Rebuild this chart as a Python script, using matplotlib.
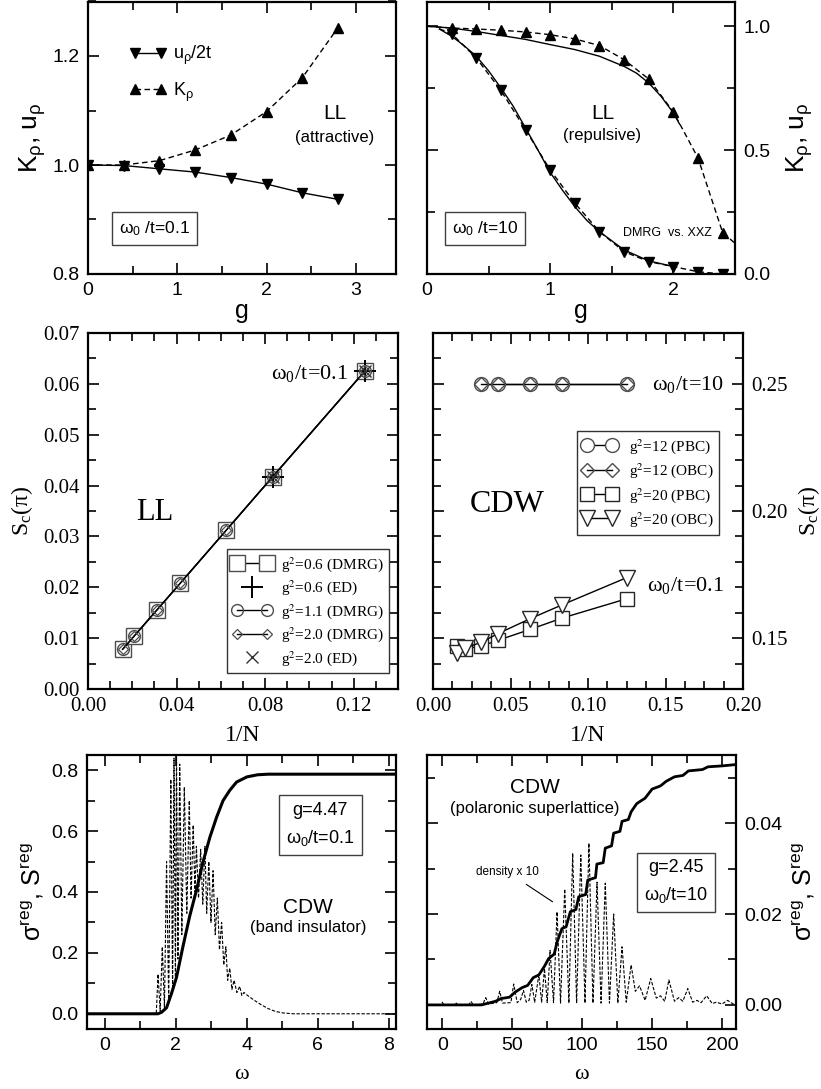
import matplotlib
matplotlib.use('Agg')
import matplotlib.pyplot as plt
from matplotlib.ticker import MultipleLocator, FormatStrFormatter
from matplotlib.legend_handler import HandlerLine2D
from matplotlib.font_manager import FontProperties

plt.rcParams['font.family'] = ['Liberation Sans', 'DejaVu Sans']
plt.rcParams['mathtext.fontset'] = 'custom'
plt.rcParams['mathtext.rm'] = 'Liberation Sans'
plt.rcParams['mathtext.it'] = 'Liberation Sans:italic'
plt.rcParams['mathtext.bf'] = 'Liberation Sans:bold'

SERIF = 'Liberation Serif'

# ---- top left: omega0/t = 0.1, attractive LL
g_att = [0.0, 0.4, 0.8, 1.2, 1.6, 2.0, 2.4, 2.8]
u_att = [1.0, 0.999, 0.993, 0.987, 0.977, 0.965, 0.949, 0.937]
K_att = [1.0, 1.0, 1.008, 1.0275, 1.055, 1.098, 1.160, 1.252]

# ---- top right: omega0/t = 10, repulsive LL (DMRG vs XXZ)
g_rep = [0.2, 0.4, 0.6, 0.8, 1.0, 1.2, 1.4, 1.6, 1.8, 2.0, 2.2, 2.4]
K_rep = [0.993, 0.989, 0.984, 0.977, 0.966, 0.949, 0.922, 0.865, 0.787, 0.654, 0.468, 0.167]
u_rep = [0.970, 0.872, 0.741, 0.582, 0.420, 0.286, 0.171, 0.090, 0.050, 0.030, 0.009, 0.0]
g_Kdash = [0.0] + g_rep + [2.5]
K_dash = [1.0] + K_rep + [0.124]
g_udash = [0.1] + g_rep
u_dash = [0.99] + u_rep
g_xxzK = [0.0, 0.2, 0.4, 0.6, 0.8, 1.0, 1.2, 1.4, 1.6, 1.7, 1.8, 1.9, 2.0, 2.05]
K_xxz = [1.0, 0.993, 0.979, 0.963, 0.947, 0.926, 0.906, 0.879, 0.838, 0.811, 0.771, 0.717, 0.650, 0.605]
g_xxzu = [0.1, 0.2, 0.3, 0.4, 0.5, 0.6, 0.7, 0.8, 0.9, 1.0, 1.1, 1.2, 1.3, 1.4, 1.6, 1.8, 2.0]
u_xxz = [0.989, 0.960, 0.922, 0.879, 0.820, 0.751, 0.677, 0.589, 0.501, 0.410, 0.338, 0.272, 0.215, 0.171, 0.097, 0.053, 0.030]

# ---- middle left: S_c(pi) vs 1/N, omega0/t = 0.1
invN_ll = [0.015625, 0.020833, 0.03125, 0.041667, 0.0625, 0.083333, 0.125]
S_ll = [0.0078, 0.0104, 0.0156, 0.0208, 0.03125, 0.0417, 0.0625]
invN_ed = [0.083333, 0.125]
S_ed = [0.0417, 0.0625]

# ---- middle right: CDW
invN_w10 = [0.03125, 0.041667, 0.0625, 0.083333, 0.125]
S_w10 = [0.25, 0.25, 0.25, 0.25, 0.25]
invN_w01 = [0.015625, 0.020833, 0.03125, 0.041667, 0.0625, 0.083333, 0.125]
S_pbc20 = [0.1471, 0.1458, 0.1469, 0.1491, 0.1534, 0.1579, 0.1655]
S_obc20 = [0.1442, 0.1461, 0.1484, 0.1517, 0.1576, 0.1631, 0.1738]

# ---- bottom left: band insulator spectra
w_bi = [-0.5, 1.45, 1.50, 1.56, 1.62, 1.68, 1.74, 1.80, 1.86, 1.91, 1.95, 1.99, 2.02, 2.06,
        2.11, 2.17, 2.24, 2.31, 2.38, 2.43, 2.49, 2.54, 2.58, 2.64, 2.70, 2.76, 2.82, 2.87,
        2.93, 2.99, 3.05, 3.11, 3.17, 3.23, 3.29, 3.35, 3.41, 3.46, 3.52, 3.58, 3.64, 3.72,
        3.80, 3.86, 3.92, 4.0, 4.2, 4.4, 4.6, 4.8, 5.0, 5.3, 8.2]
s_bi = [0.0, 0.0, 0.13, 0.01, 0.22, 0.02, 0.50, 0.04, 0.77, 0.08, 0.84, 0.12, 0.86, 0.18,
        0.82, 0.26, 0.745, 0.33, 0.70, 0.38, 0.62, 0.40, 0.55, 0.38, 0.54, 0.36, 0.55, 0.33,
        0.50, 0.30, 0.47, 0.26, 0.38, 0.21, 0.30, 0.16, 0.22, 0.11, 0.15, 0.08, 0.11, 0.07,
        0.09, 0.06, 0.07, 0.062, 0.045, 0.03, 0.017, 0.008, 0.003, 0.0, 0.0]
w_bi_int = [-0.5, 1.5, 1.6, 1.74, 1.88, 2.02, 2.2, 2.39, 2.58, 2.77, 2.96, 3.15, 3.33, 3.52,
            3.71, 4.0, 4.3, 4.6, 5.0, 8.2]
S_bi_int = [0.0, 0.0, 0.005, 0.02, 0.067, 0.12, 0.22, 0.32, 0.405, 0.50, 0.58, 0.646, 0.70,
            0.734, 0.761, 0.778, 0.785, 0.787, 0.787, 0.787]

# ---- bottom right: polaronic superlattice spectra
w_ps = [-10, -1, 0, 1, 9, 10, 11, 19, 20.5, 22, 29, 31, 33, 39, 41, 43, 49, 51, 53.5,
        56, 58, 60, 62, 64, 66, 69, 71, 73, 75, 77, 79.5, 82, 84.5, 87.5, 90.5, 93.2, 96,
        99, 102, 104.8, 107.7, 110.6, 113.5, 116.5, 119.5, 122.5, 125.5, 128.5, 131.5, 135,
        138, 141, 145, 149, 153, 156, 159, 162, 166, 169, 172, 175.5, 179, 182, 185, 189,
        193, 196, 200, 204, 208, 210]
s_ps = [0, 0, 0.0006, 0, 0, 0.0004, 0, 0, 0.0008, 0, 0.0002, 0.0016, 0.0002, 0.0005, 0.003,
        0.0004, 0.0005, 0.0046, 0.0005, 0.0012, 0.0032, 0.0006, 0.0010, 0.0045, 0.0006,
        0.0066, 0.0006, 0.0080, 0.0005, 0.0120, 0.0005, 0.0205, 0.0004, 0.0255, 0.0004,
        0.0334, 0.0004, 0.0330, 0.0004, 0.0356, 0.0004, 0.0270, 0.0004, 0.0268, 0.0004,
        0.0200, 0.0004, 0.0128, 0.0006, 0.0088, 0.0030, 0.0042, 0.0010, 0.0058, 0.0015,
        0.0020, 0.0008, 0.0055, 0.0008, 0.0016, 0.0008, 0.0036, 0.0006, 0.0010, 0.0005,
        0.0020, 0.0003, 0.0006, 0.0002, 0.0010, 0.0002, 0.0003]
w_ps_int = [-10, 28, 33, 38, 42, 48, 52, 57, 61, 65, 69, 73, 76, 80, 82, 85.5, 88.5, 91.5,
            95.5, 97.5, 102.5, 104, 109.5, 110.5, 115, 116.5, 121, 122.5, 127, 128.5, 133,
            135, 139, 145, 150, 156, 160, 166, 172, 176, 186, 190, 200, 210]
S_ps_int = [0.0, 0.0, 0.0004, 0.0008, 0.0014, 0.0017, 0.0028, 0.0038, 0.0043, 0.0060, 0.0066,
            0.0085, 0.0102, 0.0112, 0.0138, 0.0168, 0.0172, 0.0205, 0.0210, 0.0238, 0.0243,
            0.0275, 0.0280, 0.0310, 0.0313, 0.0345, 0.0350, 0.0378, 0.0382, 0.0404, 0.0408,
            0.0425, 0.0443, 0.0455, 0.0475, 0.0482, 0.0492, 0.0502, 0.0505, 0.0515, 0.0518,
            0.0524, 0.0526, 0.0529]

W, H = 821, 1089
fig = plt.figure(figsize=(W / 100, H / 100), dpi=100)


def add_ax(l, t, r, b):
    return fig.add_axes([l / W, 1 - b / H, (r - l) / W, (b - t) / H])


def style(ax, serif=False, right=False, size=14):
    ax.tick_params(which='both', direction='in', top=True, right=True, left=True,
                   bottom=True, width=1.2, labelsize=size, pad=6)
    ax.tick_params(which='major', length=8)
    ax.tick_params(which='minor', length=6)
    if serif:
        ax.tick_params(labelfontfamily=SERIF)
    if right:
        ax.tick_params(labelleft=False, labelright=True)
        ax.yaxis.set_label_position('right')
    for s in ax.spines.values():
        s.set_linewidth(1.6)


boxkw = dict(boxstyle='square,pad=0.4', fc='white', ec='0.25', lw=1.0)

# ===== panel 1
ax1 = add_ax(88, 1.5, 396, 274)
ax1.plot(g_att, u_att, '-', color='k', lw=1.0, marker='v', ms=7, label=r'u$_\mathregular{ρ}$/2t')
ax1.plot(g_att, K_att, '--', color='k', lw=1.0, marker='^', ms=7, dashes=(4, 2.5), label=r'K$_\mathregular{ρ}$')
ax1.set_xlim(0, 3.45)
ax1.set_ylim(0.8, 1.3)
ax1.xaxis.set_major_locator(MultipleLocator(1))
ax1.xaxis.set_minor_locator(MultipleLocator(0.5))
ax1.yaxis.set_major_locator(MultipleLocator(0.2))
ax1.yaxis.set_minor_locator(MultipleLocator(0.1))
ax1.yaxis.set_major_formatter(FormatStrFormatter('%.1f'))
style(ax1)
ax1.set_xlabel('g', fontsize=18, labelpad=0)
ax1.set_ylabel(r'K$_\mathregular{ρ}$, u$_\mathregular{ρ}$', fontsize=19, labelpad=3)
ax1.legend(loc='upper left', bbox_to_anchor=(0.136, 0.845), frameon=False, numpoints=2,
           handlelength=2.0, fontsize=13, labelspacing=0.75, handletextpad=0.4,
           borderpad=0, borderaxespad=0)
ax1.text(0.80, 0.59, 'LL', transform=ax1.transAxes, fontsize=15, ha='center', va='center')
ax1.text(0.80, 0.50, '(attractive)', transform=ax1.transAxes, fontsize=12, ha='center', va='center')
ax1.text(0.216, 0.167, r'ω$_\mathregular{0}$ /t=0.1', transform=ax1.transAxes, fontsize=12.5,
         ha='center', va='center', bbox=boxkw)

# ===== panel 2
ax2 = add_ax(427, 1.5, 735, 274)
ax2.plot(g_xxzK, K_xxz, '-', color='k', lw=1.0)
ax2.plot(g_xxzu, u_xxz, '-', color='k', lw=1.0)
ax2.plot(g_Kdash, K_dash, '--', color='k', lw=1.0, dashes=(4, 2.5))
ax2.plot(g_rep, K_rep, linestyle='none', color='k', marker='^', ms=7)
ax2.plot(g_udash, u_dash, '--', color='k', lw=1.0, dashes=(4, 2.5))
ax2.plot(g_rep, u_rep, linestyle='none', color='k', marker='v', ms=7)
ax2.set_xlim(0, 2.5)
ax2.set_ylim(0, 1.1)
ax2.xaxis.set_major_locator(MultipleLocator(1))
ax2.xaxis.set_minor_locator(MultipleLocator(0.5))
ax2.yaxis.set_major_locator(MultipleLocator(0.5))
ax2.yaxis.set_minor_locator(MultipleLocator(0.25))
ax2.yaxis.set_major_formatter(FormatStrFormatter('%.1f'))
style(ax2, right=True)
ax2.set_xlabel('g', fontsize=18, labelpad=0)
ax2.set_ylabel(r'K$_\mathregular{ρ}$, u$_\mathregular{ρ}$', fontsize=19, labelpad=10)
ax2.text(0.57, 0.59, 'LL', transform=ax2.transAxes, fontsize=15, ha='center', va='center')
ax2.text(0.57, 0.51, '(repulsive)', transform=ax2.transAxes, fontsize=12, ha='center', va='center')
ax2.text(0.188, 0.167, r'ω$_\mathregular{0}$ /t=10', transform=ax2.transAxes, fontsize=12.5,
         ha='center', va='center', bbox=boxkw)
ax2.text(0.78, 0.15, 'DMRG  vs. XXZ', transform=ax2.transAxes, fontsize=9, ha='center', va='center')

# ===== panel 3
ax3 = add_ax(88, 333, 398, 689)
ec = '0.3'
ax3.plot(invN_ll, S_ll, '-', color='k', lw=1.0, marker='s', ms=11, mfc='white', mec=ec,
         mew=1.0, label=r'g$^2$=0.6 (DMRG)')
ax3.plot(invN_ed, S_ed, linestyle='none', marker='+', ms=16, mec='k', mew=1.4,
         label=r'g$^2$=0.6 (ED)')
ax3.plot(invN_ll, S_ll, '-', color='k', lw=1.0, marker='o', ms=8.5, mfc='none', mec=ec,
         mew=1.0, label=r'g$^2$=1.1 (DMRG)')
ax3.plot(invN_ll, S_ll, '-', color='k', lw=1.0, marker='D', ms=5.5, mfc='none', mec=ec,
         mew=0.9, label=r'g$^2$=2.0 (DMRG)')
ax3.plot(invN_ed, S_ed, linestyle='none', marker='x', ms=8, mec='0.2', mew=1.0,
         label=r'g$^2$=2.0 (ED)')
ax3.set_xlim(0, 0.14)
ax3.set_ylim(0, 0.07)
ax3.xaxis.set_major_locator(MultipleLocator(0.04))
ax3.xaxis.set_minor_locator(MultipleLocator(0.01))
ax3.yaxis.set_major_locator(MultipleLocator(0.01))
ax3.yaxis.set_minor_locator(MultipleLocator(0.005))
ax3.xaxis.set_major_formatter(FormatStrFormatter('%.2f'))
ax3.yaxis.set_major_formatter(FormatStrFormatter('%.2f'))
style(ax3, serif=True, size=15)
sp = dict(fontfamily=SERIF, math_fontfamily='stix')
ax3.set_xlabel('1/N', fontsize=17, labelpad=6, **sp)
ax3.set_ylabel(r'S$_\mathregular{c}$(π)', fontsize=17, labelpad=6, **sp)
ax3.text(0.216, 0.497, 'LL', transform=ax3.transAxes, fontsize=22, ha='center', va='center', **sp)
ax3.text(0.84, 0.885, r'ω$_\mathregular{0}$/t=0.1', transform=ax3.transAxes, fontsize=16,
         ha='right', va='center', **sp)
h1 = HandlerLine2D(numpoints=1)
handles, labels = ax3.get_legend_handles_labels()
leg = ax3.legend(handles, labels, loc='lower right', bbox_to_anchor=(0.971, 0.045), numpoints=2,
                 handlelength=2.6, prop=FontProperties(family=SERIF, size=11, math_fontfamily='stix'),
                 fancybox=False, edgecolor='0.2', framealpha=1, borderpad=0.35, labelspacing=0.3,
                 borderaxespad=0, handletextpad=0.6,
                 handler_map={handles[1]: h1, handles[4]: h1})
leg.get_frame().set_linewidth(1.0)

# ===== panel 4
ax4 = add_ax(433, 333, 743, 689)
ax4.plot(invN_w10, S_w10, '-', color='k', lw=1.0, marker='o', ms=10, mfc='white', mec=ec,
         mew=1.0, label=r'g$^2$=12 (PBC)')
ax4.plot(invN_w10, S_w10, '-', color='k', lw=1.0, marker='D', ms=7, mfc='none', mec=ec,
         mew=1.0, label=r'g$^2$=12 (OBC)')
ax4.plot(invN_w01, S_pbc20, '-', color='k', lw=1.0, marker='s', ms=10, mfc='white', mec='0.15',
         mew=1.0, label=r'g$^2$=20 (PBC)')
ax4.plot(invN_w01, S_obc20, '-', color='k', lw=1.0, marker='v', ms=11, mfc='white', mec='0.15',
         mew=1.0, label=r'g$^2$=20 (OBC)')
ax4.set_xlim(0, 0.2)
ax4.set_ylim(0.13, 0.27)
ax4.xaxis.set_major_locator(MultipleLocator(0.05))
ax4.xaxis.set_minor_locator(MultipleLocator(0.0125))
ax4.yaxis.set_major_locator(MultipleLocator(0.05))
ax4.yaxis.set_minor_locator(MultipleLocator(0.01))
ax4.xaxis.set_major_formatter(FormatStrFormatter('%.2f'))
ax4.yaxis.set_major_formatter(FormatStrFormatter('%.2f'))
style(ax4, serif=True, right=True, size=15)
ax4.set_xlabel('1/N', fontsize=17, labelpad=6, **sp)
ax4.set_ylabel(r'S$_\mathregular{c}$(π)', fontsize=17, labelpad=6, **sp)
ax4.text(0.239, 0.517, 'CDW', transform=ax4.transAxes, fontsize=23, ha='center', va='center', **sp)
ax4.text(0.94, 0.855, r'ω$_\mathregular{0}$/t=10', transform=ax4.transAxes, fontsize=16,
         ha='right', va='center', **sp)
ax4.text(0.94, 0.29, r'ω$_\mathregular{0}$/t=0.1', transform=ax4.transAxes, fontsize=16,
         ha='right', va='center', **sp)
leg4 = ax4.legend(loc='upper right', bbox_to_anchor=(0.923, 0.725), numpoints=2, handlelength=2.2,
                  prop=FontProperties(family=SERIF, size=11, math_fontfamily='stix'),
                  fancybox=False, edgecolor='0.2', framealpha=1, borderpad=0.4, labelspacing=0.35,
                  borderaxespad=0)
leg4.get_frame().set_linewidth(1.0)

# ===== panel 5
ax5 = add_ax(87, 755, 396, 1029)
ax5.plot(w_bi, s_bi, '--', color='k', lw=0.8, dashes=(3, 1.5))
ax5.plot(w_bi_int, S_bi_int, '-', color='k', lw=2.2)
ax5.set_xlim(-0.5, 8.2)
ax5.set_ylim(-0.05, 0.85)
ax5.xaxis.set_major_locator(MultipleLocator(2))
ax5.xaxis.set_minor_locator(MultipleLocator(1))
ax5.yaxis.set_major_locator(MultipleLocator(0.2))
ax5.yaxis.set_minor_locator(MultipleLocator(0.1))
ax5.yaxis.set_major_formatter(FormatStrFormatter('%.1f'))
style(ax5)
ax5.set_xlabel('ω', fontsize=16, labelpad=8, fontfamily=SERIF)
ax5.set_ylabel(r'σ$^\mathregular{reg}$, S$^\mathregular{reg}$', fontsize=18, labelpad=4)
ax5.text(0.755, 0.746, 'g=4.47\n' + r'ω$_\mathregular{0}$/t=0.1', transform=ax5.transAxes, fontsize=13,
         ha='center', va='center', linespacing=1.6, bbox=dict(boxkw, pad=0.4))
ax5.text(0.715, 0.445, 'CDW', transform=ax5.transAxes, fontsize=15, ha='center', va='center')
ax5.text(0.715, 0.37, '(band insulator)', transform=ax5.transAxes, fontsize=12, ha='center', va='center')

# ===== panel 6
ax6 = add_ax(427, 755, 736, 1029)
ax6.plot(w_ps, s_ps, '--', color='k', lw=0.8, dashes=(3, 1.5))
ax6.plot(w_ps_int, S_ps_int, '-', color='k', lw=2.0)
ax6.set_xlim(-11, 210)
ax6.set_ylim(-0.0053, 0.055)
ax6.xaxis.set_major_locator(MultipleLocator(50))
ax6.xaxis.set_minor_locator(MultipleLocator(25))
ax6.yaxis.set_major_locator(MultipleLocator(0.02))
ax6.yaxis.set_minor_locator(MultipleLocator(0.01))
ax6.yaxis.set_major_formatter(FormatStrFormatter('%.2f'))
style(ax6, right=True)
ax6.set_xlabel('ω', fontsize=16, labelpad=8, fontfamily=SERIF)
ax6.set_ylabel(r'σ$^\mathregular{reg}$, S$^\mathregular{reg}$', fontsize=18, labelpad=6)
ax6.text(0.806, 0.536, 'g=2.45\n' + r'ω$_\mathregular{0}$/t=10', transform=ax6.transAxes, fontsize=13,
         ha='center', va='center', linespacing=1.6, bbox=dict(boxkw, pad=0.4))
ax6.text(0.35, 0.88, 'CDW', transform=ax6.transAxes, fontsize=15, ha='center', va='center')
ax6.text(0.35, 0.805, '(polaronic superlattice)', transform=ax6.transAxes, fontsize=12,
         ha='center', va='center')
ax6.annotate('density x 10', xy=(78.8, 0.0227), xytext=(46.4, 0.0293), fontsize=8.5,
             ha='center', va='center', arrowprops=dict(arrowstyle='-', lw=0.8, color='k',
                                                        shrinkA=5, shrinkB=0))

fig.savefig('out.png', dpi=100)
